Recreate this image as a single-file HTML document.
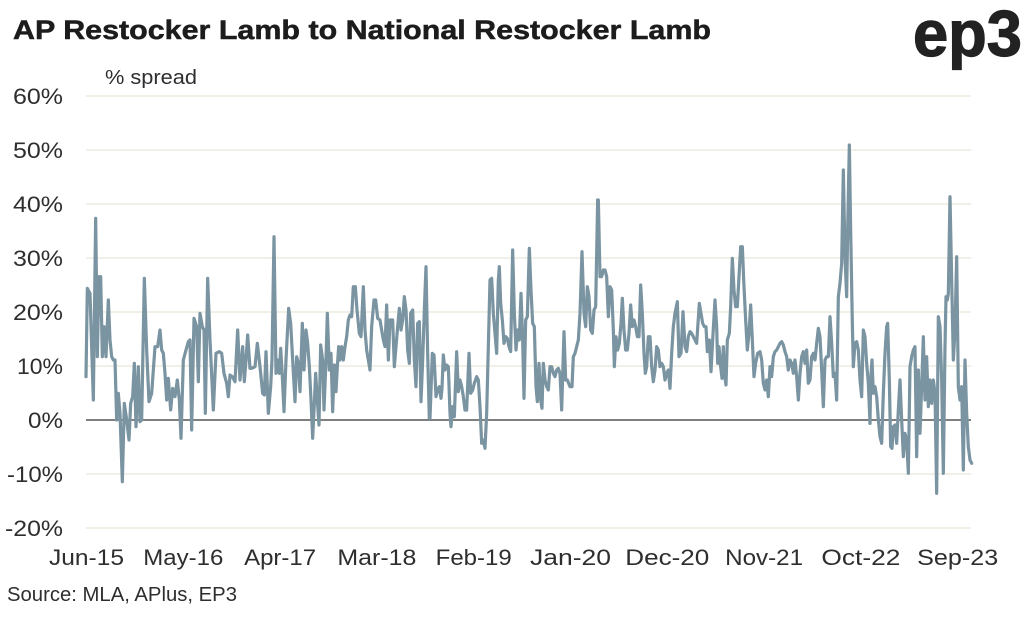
<!DOCTYPE html>
<html>
<head>
<meta charset="utf-8">
<style>
  html,body{margin:0;padding:0;background:#fff;}
  svg{display:block;}
  text{font-family:"Liberation Sans",sans-serif;}
</style>
</head>
<body>
<svg width="1024" height="620" viewBox="0 0 1024 620" xmlns="http://www.w3.org/2000/svg">
  <rect x="0" y="0" width="1024" height="620" fill="#ffffff"/>

  <!-- Title -->
  <text x="13" y="39" font-size="27" font-weight="bold" fill="#1c1c1c" stroke="#1c1c1c" stroke-width="0.5" textLength="698" lengthAdjust="spacingAndGlyphs">AP Restocker Lamb to National Restocker Lamb</text>

  <!-- Logo -->
  <text x="913" y="56" font-size="65" font-weight="bold" fill="#222" stroke="#222" stroke-width="1.2" textLength="109" lengthAdjust="spacingAndGlyphs">ep3</text>

  <!-- Axis unit -->
  <text x="105" y="84" font-size="20" fill="#2e2e2e" textLength="92" lengthAdjust="spacingAndGlyphs">% spread</text>

  <!-- Gridlines -->
  <g stroke="#ecebdf" stroke-width="1.6">
    <line x1="86" y1="96" x2="971" y2="96"/>
    <line x1="86" y1="150" x2="971" y2="150"/>
    <line x1="86" y1="204" x2="971" y2="204"/>
    <line x1="86" y1="258" x2="971" y2="258"/>
    <line x1="86" y1="312" x2="971" y2="312"/>
    <line x1="86" y1="366" x2="971" y2="366"/>
    <line x1="86" y1="474" x2="971" y2="474"/>
    <line x1="86" y1="528" x2="971" y2="528"/>
  </g>
  <line x1="86" y1="420" x2="971" y2="420" stroke="#555" stroke-width="1.6"/>

  <!-- Y labels -->
  <g font-size="22" fill="#2e2e2e" text-anchor="end">
    <text x="63" y="104" textLength="50" lengthAdjust="spacingAndGlyphs">60%</text>
    <text x="63" y="158" textLength="50" lengthAdjust="spacingAndGlyphs">50%</text>
    <text x="63" y="212" textLength="50" lengthAdjust="spacingAndGlyphs">40%</text>
    <text x="63" y="266" textLength="50" lengthAdjust="spacingAndGlyphs">30%</text>
    <text x="63" y="320" textLength="50" lengthAdjust="spacingAndGlyphs">20%</text>
    <text x="63" y="374" textLength="46" lengthAdjust="spacingAndGlyphs">10%</text>
    <text x="63" y="428" textLength="35" lengthAdjust="spacingAndGlyphs">0%</text>
    <text x="63" y="482" textLength="56" lengthAdjust="spacingAndGlyphs">-10%</text>
    <text x="63" y="536" textLength="58" lengthAdjust="spacingAndGlyphs">-20%</text>
  </g>

  <!-- X labels -->
  <g font-size="22" fill="#2e2e2e" text-anchor="middle">
    <text x="86.5" y="565" textLength="75" lengthAdjust="spacingAndGlyphs">Jun-15</text>
    <text x="183.3" y="565" textLength="80" lengthAdjust="spacingAndGlyphs">May-16</text>
    <text x="280.1" y="565" textLength="72" lengthAdjust="spacingAndGlyphs">Apr-17</text>
    <text x="376.9" y="565" textLength="79" lengthAdjust="spacingAndGlyphs">Mar-18</text>
    <text x="473.7" y="565" textLength="76" lengthAdjust="spacingAndGlyphs">Feb-19</text>
    <text x="570.5" y="565" textLength="81" lengthAdjust="spacingAndGlyphs">Jan-20</text>
    <text x="667.3" y="565" textLength="84" lengthAdjust="spacingAndGlyphs">Dec-20</text>
    <text x="764.1" y="565" textLength="78" lengthAdjust="spacingAndGlyphs">Nov-21</text>
    <text x="860.9" y="565" textLength="79" lengthAdjust="spacingAndGlyphs">Oct-22</text>
    <text x="957.7" y="565" textLength="81" lengthAdjust="spacingAndGlyphs">Sep-23</text>
  </g>

  <!-- Source -->
  <text x="7" y="601" font-size="20" fill="#2e2e2e" textLength="230" lengthAdjust="spacingAndGlyphs">Source: MLA, APlus, EP3</text>

  <!-- Series -->
  <g fill="none" stroke="#7a94a2" stroke-linejoin="round" stroke-linecap="round">
    <polyline transform="translate(80,200) scale(0.33333)" stroke-width="9.6" points="18,530 22,265 30,280 40,600 47,55 52,470 57,230 62,230 67,470 72,380 78,470 85,300 90,420 95,470 100,480 105,480 110,660 115,580 120,640 127,845 133,610 140,660 147,720 152,610 158,590 163,490 168,680 175,500 180,665 185,660 193,235 200,450 207,605 215,580 225,440 233,440 240,390 245,450 250,460 255,520 260,600 265,535 272,630 278,565 285,590 292,540 298,600 303,715 310,480 318,450 325,425 330,420 335,690 342,355 350,380 355,545 360,340 367,380 372,390 376,640 383,235 390,420 400,630 408,460 418,455 425,460 432,520 440,550 445,590 450,525 457,530 465,545 473,390 480,540 488,440 493,545 498,480 503,405 510,505"/>
    <polyline transform="translate(250,220) scale(0.33333)" stroke-width="9.6" points="0,444 5,445 15,440 22,370 30,440 38,520 43,525 48,395 55,580 62,500 66,420 72,50 78,460 83,420 88,460 92,385 97,470 102,575 108,420 116,265 122,310 128,420 135,545 140,410 145,430 150,515 157,310 162,450 168,330 173,370 178,440 183,540 188,655 193,550 197,460 202,540 207,615 212,375 218,420 222,570 228,420 232,280 238,450 243,400 248,575 253,435 258,515 262,440 266,380 270,420 275,380 280,420 285,380 290,350 295,300 300,285 305,290 310,200 316,200 321,270 328,340 333,350 340,200 345,330 350,390 355,420 360,450 365,320 372,240 377,240 383,295 390,300 395,330 400,360 405,380 410,255 415,420 420,300 425,300 428,300 433,440 438,380 443,320 448,265 453,330 458,300 463,230 468,270 473,390 478,430 482,280 488,270 493,420 498,500 503,310 508,305 513,545 518,420 523,270 528,140 533,400 538,595"/>
    <polyline transform="translate(420,180) scale(0.33333)" stroke-width="9.6" points="28,715 30,715 37,520 42,525 48,650 53,630 58,620 63,655 66,625 70,525 75,570 80,555 85,560 90,700 93,740 98,680 103,710 110,515 115,635 120,600 125,620 130,650 135,690 140,690 147,520 152,640 158,630 163,610 170,590 175,600 180,680 185,790 190,780 195,805 200,700 205,500 210,300 215,295 220,400 225,460 230,520 235,300 238,260 242,370 247,420 252,490 257,470 262,475 267,500 272,515 278,210 283,400 288,510 293,450 298,480 303,340 308,480 312,655 317,420 322,410 328,205 333,330 338,430 343,440 348,620 352,665 357,550 362,660 366,685 370,550 375,600 380,620 385,630 390,560 395,560 400,580 405,590 410,570 415,565 420,580 425,690 432,455 437,600 442,600 450,620 456,620 460,530 465,520 470,500 475,480 480,400 486,215 492,400 497,440 502,320 507,350 512,450 517,460 522,390 527,380 533,60"/>
    <polyline transform="translate(590,180) scale(0.33333)" stroke-width="9.6" points="23,60 25,60 30,290 35,290 40,270 45,270 50,290 55,410 60,320 65,330 70,450 73,560 78,470 83,510 88,490 93,430 97,355 102,450 107,510 112,510 117,460 122,375 127,440 132,420 137,440 142,470 147,470 152,315 157,400 162,520 166,580 170,560 175,470 180,470 185,560 190,605 195,570 200,500 205,510 210,560 215,550 220,560 225,600 230,580 235,570 240,625 245,520 250,440 255,400 262,365 267,530 273,520 279,395 285,500 290,515 295,470 300,455 305,460 310,470 315,480 320,490 328,370 333,400 338,430 343,440 348,440 352,515 358,480 363,575 368,480 375,360 380,440 383,550 387,500 392,560 396,595 400,500 403,580 408,615 412,480 418,460 422,380 427,235 432,330 437,380 442,380 447,290 452,200 457,200 462,320 467,420 472,510 477,460 482,375 487,480 492,590 497,550 503,520 510,515 515,540 520,610 525,630 530,600 535,650 540,560"/>
    <polyline transform="translate(760,130) scale(0.33333)" stroke-width="9.6" points="30,710 35,740 40,680 45,665 50,660 55,650 60,640 65,635 70,645 75,665 80,680 85,720 90,690 95,700 100,730 105,690 110,740 115,810 120,730 125,680 130,665 135,700 140,660 145,760 150,750 155,680 160,670 165,690 170,640 175,595 180,620 185,720 190,830 195,690 200,680 205,680 210,560 215,640 220,740 225,730 230,810 235,500 240,460 245,400 250,120 255,380 260,500 263,300 268,45 272,300 277,580 280,710 285,640 290,635 295,660 300,750 305,800 310,600 315,620 320,700 325,760 330,880"/>
    <polyline transform="translate(860,180) scale(0.33333)" stroke-width="9.6" points="30,730 32,600 36,540 40,640 45,620 50,650 55,720 60,770 65,790 70,640 75,520 80,440 83,430 88,600 92,800 96,805 100,740 105,735 110,790 115,690 120,600 125,720 130,830 135,760 140,780 145,880 150,560 155,530 160,510 165,500 170,830 175,570 180,760 185,620 190,470 195,660 200,530 205,680 210,600 215,670 220,600 225,640 230,940 235,410 240,440 245,600 250,880 255,500 258,350 262,360 265,340 270,50 275,300 280,540 285,450 290,230 295,620 300,660 305,620 310,870 315,540 320,700 325,800 330,840 335,850"/>
  </g>
</svg>
</body>
</html>
